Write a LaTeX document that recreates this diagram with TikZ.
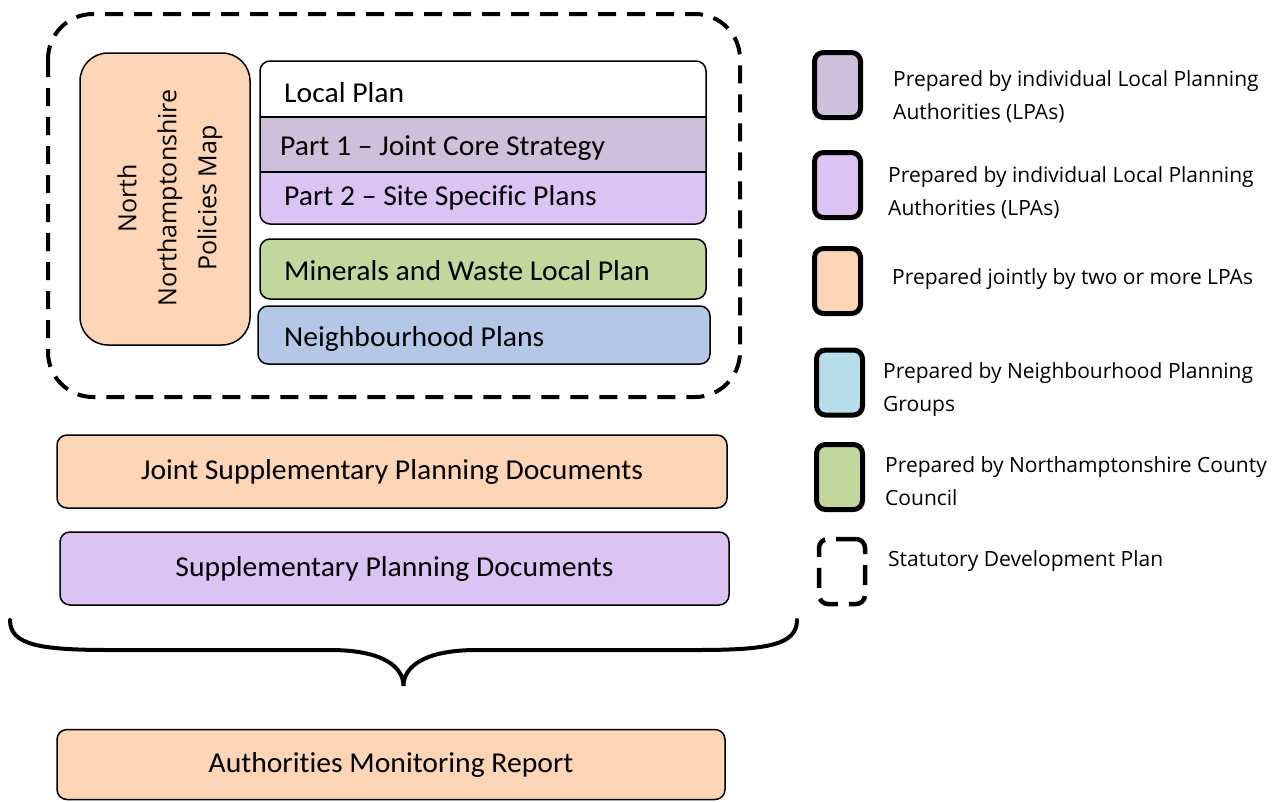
\documentclass[tikz,border=0pt]{standalone}
\usepackage{fontspec}
\setmainfont[Ligatures=NoCommon,FakeStretch=1.03]{Carlito}
\newfontfamily\lgfont{Open Sans}
\definecolor{clil}{HTML}{CCC0DA}
\definecolor{cpur}{HTML}{DBC3F4}
\definecolor{corg}{HTML}{FBD5B5}
\definecolor{cgrn}{HTML}{C3D69B}
\definecolor{cblu}{HTML}{B4C7E7}
\definecolor{clbl}{HTML}{B7DDE8}
\begin{document}
\begin{tikzpicture}[x=1pt,y=-1pt,
  box/.style={draw=black, line width=1.5pt, rounded corners=10pt, inner sep=0pt},
  maintext/.style={font=\fontsize{28.8}{34}\selectfont, inner sep=0pt},
  lefttext/.style={maintext, anchor=base west},
  legbox/.style={draw=black, line width=5pt, rounded corners=9pt, minimum width=46pt, minimum height=65pt, inner sep=0pt},
  legdash/.style={draw=black, line width=4.5pt, rounded corners=9pt, dash pattern=on 20pt off 11pt, minimum width=46pt, minimum height=65pt, inner sep=0pt},
  legtext/.style={font=\lgfont\fontsize{21}{32.5}\selectfont, align=left, anchor=base west, inner sep=0pt},
  sdp/.style={draw=black, line width=4pt, rounded corners=45pt, dash pattern=on 18pt off 11pt},
]
\useasboundingbox (0,0) rectangle (1282,801);

% Statutory development plan boundary
\draw[sdp] (48,14) rectangle (740,397);

% North Northamptonshire Policies Map
\node[box, fill=corg, rounded corners=28pt, minimum width=170pt, minimum height=292pt] (nnpm) at (165,199) {};
\node[rotate=90, align=center, font=\lgfont\fontsize{25}{40}\selectfont, inner sep=0pt] (nnpmtext) at (170,198) {North\\Northamptonshire\\Policies Map};

% Local plan group
\begin{scope}
  \clip[rounded corners=10pt] (260,61) rectangle (706,224);
  \fill[white] (260,61) rectangle (706,117);
  \fill[clil] (260,117) rectangle (706,172);
  \fill[cpur] (260,172) rectangle (706,224);
\end{scope}
\draw[line width=1.5pt, rounded corners=10pt] (260,61) rectangle (706,224);
\draw[line width=1.5pt] (260,117) -- (706,117);
\draw[line width=1.5pt] (260,172) -- (706,172);
\node[lefttext] (lp) at (284,102) {Local Plan};
\node[lefttext] (p1) at (280,155) {Part 1 – Joint Core Strategy};
\node[lefttext] (p2) at (284,205) {Part 2 – Site Specific Plans};

\node[box, fill=cgrn, minimum width=446pt, minimum height=60pt] (mwbox) at (483,269) {};
\node[lefttext] (mw) at (284,280) {Minerals and Waste Local Plan};
\node[box, fill=cblu, minimum width=452pt, minimum height=58pt] (npbox) at (484,335) {};
\node[lefttext] (np) at (284,346.5) {Neighbourhood Plans};

% Supplementary documents
\node[box, maintext, fill=corg, minimum width=670pt, minimum height=73pt] (jspd) at (392,471.5) {Joint Supplementary Planning Documents};
\node[box, maintext, fill=cpur, minimum width=669pt, minimum height=73pt] (spd) at (394.5,568.5) {Supplementary Planning Documents};

% Brace
\coordinate (bl) at (10,620);
\coordinate (br) at (797,620);
\coordinate (btip) at (403.5,686);
\draw[line width=4pt, line cap=round] (bl) .. controls (10,645) and (40,650) .. (110,650) -- (330,650)
  .. controls (385,650) and (403.5,668) .. (btip)
  .. controls (403.5,668) and (422,650) .. (477,650) -- (697,650)
  .. controls (767,650) and (797,645) .. (br);

\node[box, maintext, fill=corg, minimum width=668pt, minimum height=70pt] (amr) at (391,764.5) {Authorities Monitoring Report};

% Legend
\node[legbox, fill=clil] (k1) at (837.5,85) {};
\node[legtext] (t1) at (893,119) {Prepared by individual Local Planning\\Authorities (LPAs)};
\node[legbox, fill=cpur] (k2) at (837.5,185) {};
\node[legtext] (t2) at (888,215) {Prepared by individual Local Planning\\Authorities (LPAs)};
\node[legbox, fill=clbl] (k4) at (839.5,382.5) {};
\node[legbox, fill=corg] (k3) at (837.5,281) {};
\node[legtext] (t3) at (892,284) {Prepared jointly by two or more LPAs};
\node[legtext] (t4) at (883,411) {Prepared by Neighbourhood Planning\\Groups};
\node[legbox, fill=cgrn] (k5) at (839.5,477) {};
\node[legtext] (t5) at (885,505) {Prepared by Northamptonshire County\\Council};
\node[legdash] (k6) at (842,571.5) {};
\node[legtext] (t6) at (888,566.5) {Statutory Development Plan};
\end{tikzpicture}
\end{document}
